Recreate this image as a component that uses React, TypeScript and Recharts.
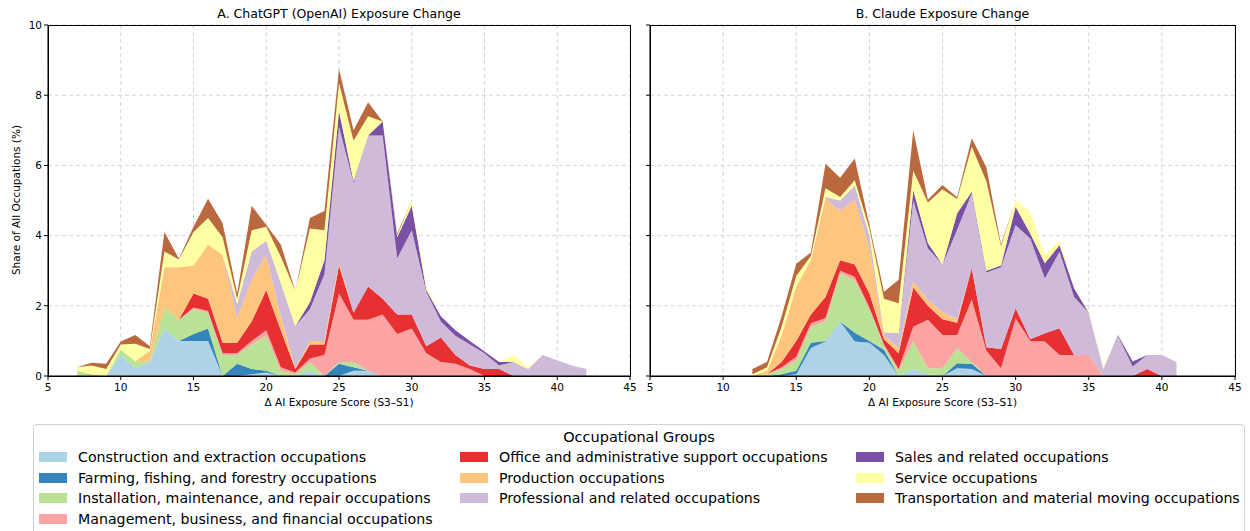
import React from 'react';
import { AreaChart, Area, XAxis, YAxis, CartesianGrid } from 'recharts';

const groupNames = [
  'Construction and extraction occupations',
  'Farming, fishing, and forestry occupations',
  'Installation, maintenance, and repair occupations',
  'Management, business, and financial occupations',
  'Office and administrative support occupations',
  'Production occupations',
  'Professional and related occupations',
  'Sales and related occupations',
  'Service occupations',
  'Transportation and material moving occupations',
];
const groupKeys = ['construction', 'farming', 'installation', 'management', 'office', 'production', 'professional', 'sales', 'service', 'transport'];
const groupColors = ['#a6cee3', '#1f78b4', '#b2df8a', '#fb9a99', '#e31a1c', '#fdbf6f', '#cab2d6', '#6a3d9a', '#ffff99', '#b15928'];

const xTicks = [5, 10, 15, 20, 25, 30, 35, 40, 45];
const yTicks = [0, 2, 4, 6, 8, 10];

// Panel A: ChatGPT (OpenAI)
const xA = [7, 8, 9, 10, 11, 12, 13, 14, 15, 16, 17, 18, 19, 20, 21, 22, 23, 24, 25, 26, 27, 28, 29, 30, 31, 32, 33, 34, 35, 36, 37, 38, 39, 40, 41, 42];
const constructionA = [0, 0, 0, 0.6, 0.22, 0.4, 1.35, 1.0, 1.0, 1.0, 0, 0, 0.05, 0.1, 0, 0, 0.15, 0, 0, 0.15, 0.15, 0, 0, 0, 0, 0, 0, 0, 0, 0, 0, 0, 0, 0, 0, 0];
const farmingA = [0, 0, 0, 0, 0, 0, 0, 0, 0.2, 0.35, 0, 0.35, 0.15, 0.05, 0, 0, 0, 0, 0.35, 0.1, 0, 0, 0, 0, 0, 0, 0, 0, 0, 0, 0, 0, 0, 0, 0, 0];
const installationA = [0.15, 0.05, 0, 0.15, 0.2, 0.02, 0.6, 0.6, 0.7, 0.45, 0.6, 0.25, 0.7, 1.0, 0.15, 0.05, 0.25, 0, 0.05, 0.15, 0, 0, 0, 0, 0, 0, 0, 0, 0, 0, 0, 0, 0, 0, 0, 0];
const managementA = [0, 0, 0, 0, 0, 0, 0, 0, 0.05, 0.05, 0.05, 0.05, 0.1, 0.15, 0.1, 0.05, 0.1, 0.6, 1.95, 1.2, 1.45, 1.75, 1.2, 1.35, 0.65, 0.4, 0.35, 0.2, 0, 0, 0, 0, 0, 0, 0, 0];
const officeA = [0, 0, 0, 0, 0, 0, 0, 0, 0.4, 0.35, 0.3, 0.3, 0.55, 1.15, 1.05, 0.1, 0.4, 0.3, 0.8, 0.2, 0.95, 0.45, 0.55, 0.4, 0.2, 0.7, 0.25, 0.1, 0.2, 0.2, 0, 0, 0, 0, 0, 0];
const productionA = [0, 0, 0, 0, 0, 0.3, 1.15, 1.5, 0.8, 1.55, 2.5, 0.7, 1.2, 1.0, 0.4, 0.02, 0.1, 0.1, 0.1, 0, 0, 0, 0, 0, 0, 0, 0, 0, 0, 0, 0, 0, 0, 0, 0, 0];
const professionalA = [0, 0, 0, 0, 0, 0, 0, 0, 0, 0, 0, 0.4, 0.8, 0.4, 0.95, 1.2, 0.9, 1.9, 3.85, 3.7, 4.3, 4.65, 1.6, 2.4, 1.55, 0.45, 0.55, 0.6, 0.45, 0.1, 0.4, 0.2, 0.6, 0.45, 0.3, 0.2];
const salesA = [0, 0, 0, 0, 0, 0, 0, 0, 0, 0, 0, 0, 0, 0, 0, 0, 0.2, 0.4, 0.45, 0.05, 0, 0.4, 0.6, 0.7, 0.05, 0.15, 0.15, 0.1, 0.05, 0.1, 0, 0, 0, 0, 0, 0];
const serviceA = [0.1, 0.25, 0.2, 0.15, 0.5, 0.05, 0.45, 0.22, 0.95, 0.75, 0.5, 0.15, 0.6, 0.4, 0.75, 1.0, 2.1, 0.85, 0.8, 1.15, 0.55, 0, 0.05, 0.15, 0.1, 0, 0, 0, 0, 0, 0.2, 0.05, 0, 0, 0, 0];
const transportA = [0, 0.08, 0.15, 0.08, 0.25, 0.08, 0.55, 0.02, 0.15, 0.55, 0.4, 0.15, 0.7, 0.05, 0.35, 0, 0.3, 0.55, 0.4, 0.3, 0.4, 0, 0.05, 0, 0, 0, 0, 0, 0, 0, 0, 0, 0, 0, 0, 0];

// Panel B: Claude
const xB = [12, 13, 14, 15, 16, 17, 18, 19, 20, 21, 22, 23, 24, 25, 26, 27, 28, 29, 30, 31, 32, 33, 34, 35, 36, 37, 38, 39, 40, 41];
const constructionB = [0, 0, 0, 0.05, 0.8, 0.98, 1.55, 0.98, 0.95, 0.6, 0, 0.2, 0.05, 0, 0.22, 0.2, 0, 0, 0, 0, 0, 0, 0, 0, 0, 0, 0, 0, 0, 0];
const farmingB = [0, 0, 0.05, 0.1, 0.15, 0.02, 0, 0.25, 0.05, 0.15, 0, 0, 0, 0, 0.14, 0.15, 0, 0, 0, 0, 0, 0, 0, 0, 0, 0, 0, 0, 0, 0];
const installationB = [0, 0.05, 0.15, 0.3, 0.45, 0.55, 1.37, 1.5, 0.9, 0.1, 0.15, 0.78, 0.17, 0.22, 0.43, 0.05, 0, 0, 0, 0, 0, 0, 0, 0, 0, 0, 0, 0, 0, 0];
const managementB = [0, 0, 0.05, 0.1, 0.1, 0.1, 0.08, 0.1, 0.05, 0.05, 0.05, 0.42, 1.38, 0.95, 0.38, 1.77, 0.72, 0.22, 1.64, 1.0, 0.98, 0.6, 0.6, 0.6, 0, 0, 0, 0, 0, 0];
const officeB = [0, 0, 0.15, 0.45, 0.25, 0.6, 0.3, 0.35, 0.4, 0.15, 0.45, 1.12, 0.4, 0.45, 0.35, 0.9, 0.1, 0.55, 0.29, 0.05, 0.24, 0.76, 0, 0, 0, 0, 0, 0.2, 0, 0];
const productionB = [0, 0.1, 0.75, 1.55, 1.55, 2.8, 1.4, 1.85, 1.3, 0.1, 0.15, 0.18, 0.17, 0.2, 0.1, 0, 0, 0, 0, 0, 0, 0, 0, 0, 0, 0, 0, 0, 0, 0];
const professionalB = [0, 0, 0, 0, 0, 0.05, 0.3, 0.4, 0.35, 0.1, 0.42, 2.3, 1.47, 1.35, 2.55, 2.13, 2.13, 2.33, 2.37, 2.87, 1.56, 2.18, 1.65, 1.2, 0.2, 1.15, 0.27, 0.4, 0.6, 0.4];
const salesB = [0, 0, 0, 0, 0, 0, 0, 0, 0, 0, 0, 0.3, 0.15, 0, 0.47, 0.05, 0.05, 0.05, 0.52, 0.14, 0.43, 0.19, 0.25, 0, 0, 0.02, 0.14, 0, 0, 0];
const serviceB = [0.05, 0.1, 0.25, 0.3, 0.12, 0.25, 0.1, 0.15, 0.2, 0.95, 0.85, 0.55, 1.15, 2.15, 0.4, 1.28, 2.55, 0.55, 0.19, 0.62, 0.24, 0.14, 0.02, 0.05, 0.05, 0, 0, 0, 0, 0];
const transportB = [0.15, 0.15, 0.3, 0.35, 0.1, 0.7, 0.55, 0.62, 0.1, 0.2, 0.67, 1.15, 0.08, 0.12, 0.05, 0.24, 0.4, 0.05, 0, 0, 0, 0, 0, 0, 0, 0, 0, 0, 0, 0];

const seriesA = [constructionA, farmingA, installationA, managementA, officeA, productionA, professionalA, salesA, serviceA, transportA];
const seriesB = [constructionB, farmingB, installationB, managementB, officeB, productionB, professionalB, salesB, serviceB, transportB];

function buildRows(xs: number[], series: number[][]) {
  return xs.map((x, i) => {
    const row: Record<string, number> = { x };
    groupKeys.forEach((k, j) => {
      row[k] = series[j][i];
    });
    return row;
  });
}

const dataA = buildRows(xA, seriesA);
const dataB = buildRows(xB, seriesB);

const FONT = '"DejaVu Sans", sans-serif';
const tickStyle = { fontSize: 10.5, fill: '#000', fontFamily: FONT };

function Panel({ data, left, width, showYLabels }: { data: Record<string, number>[]; left: number; width: number; showYLabels: boolean }) {
  return (
    <div style={{ position: 'absolute', left, top: 0 }}>
      <AreaChart width={width} height={400} data={data} margin={{ top: 25, right: 10, bottom: 0, left: 0 }}>
        <CartesianGrid stroke="#d4d4d4" strokeDasharray="4 3" />
        <XAxis
          dataKey="x"
          type="number"
          domain={[5, 45]}
          ticks={xTicks}
          allowDataOverflow
          height={24}
          tickSize={4}
          tickMargin={4}
          stroke="#000"
          tick={tickStyle}
          interval={0}
        />
        <YAxis
          type="number"
          domain={[0, 10]}
          ticks={yTicks}
          allowDataOverflow
          width={48}
          tickSize={4}
          tickMargin={2}
          stroke="#000"
          tick={tickStyle}
          interval={0}
          tickFormatter={(v: number) => (showYLabels ? String(v) : '')}
        />
        {groupKeys.map((k, j) => (
          <Area
            key={k}
            type="linear"
            dataKey={k}
            stackId="s"
            stroke="none"
            fill={groupColors[j]}
            fillOpacity={0.9}
            isAnimationActive={false}
            dot={false}
            activeDot={false}
          />
        ))}
      </AreaChart>
    </div>
  );
}

export default function App() {
  const plotA = { left: 48, right: 630 };
  const plotB = { left: 650, right: 1235 };
  return (
    <div style={{ position: 'fixed', left: 0, top: 0, width: 1250, height: 531, background: '#fff', overflow: 'hidden', fontFamily: FONT, color: '#000' }}>
      <Panel data={dataA} left={0} width={640} showYLabels={true} />
      <Panel data={dataB} left={602} width={643} showYLabels={false} />

      {/* frames */}
      <div style={{ position: 'absolute', left: plotA.left, top: 25, width: plotA.right - plotA.left + 1, height: 352, border: '1px solid #000', boxSizing: 'border-box', pointerEvents: 'none' }} />
      <div style={{ position: 'absolute', left: plotB.left, top: 25, width: plotB.right - plotB.left + 1, height: 352, border: '1px solid #000', boxSizing: 'border-box', pointerEvents: 'none' }} />

      {/* titles */}
      <div style={{ position: 'absolute', left: plotA.left, width: plotA.right - plotA.left, top: 6, textAlign: 'center', fontSize: 12.5, lineHeight: '16px' }}>A. ChatGPT (OpenAI) Exposure Change</div>
      <div style={{ position: 'absolute', left: plotB.left, width: plotB.right - plotB.left, top: 6, textAlign: 'center', fontSize: 12.5, lineHeight: '16px' }}>B. Claude Exposure Change</div>

      {/* x labels */}
      <div style={{ position: 'absolute', left: plotA.left, width: plotA.right - plotA.left, top: 395, textAlign: 'center', fontSize: 10.5, lineHeight: '14px' }}>Δ AI Exposure Score (S3–S1)</div>
      <div style={{ position: 'absolute', left: plotB.left, width: plotB.right - plotB.left, top: 395, textAlign: 'center', fontSize: 10.5, lineHeight: '14px' }}>Δ AI Exposure Score (S3–S1)</div>

      {/* y label */}
      <div style={{ position: 'absolute', left: 16, top: 200, width: 0, height: 0 }}>
        <div style={{ position: 'absolute', left: -100, top: -7, width: 200, textAlign: 'center', fontSize: 10.5, lineHeight: '14px', transform: 'rotate(-90deg)', whiteSpace: 'nowrap' }}>Share of All Occupations (%)</div>
      </div>

      {/* legend */}
      <div style={{ position: 'absolute', left: 33, top: 424, width: 1212, height: 120, border: '1px solid #d0d0d0', borderRadius: 4, boxSizing: 'border-box' }} />
      <div style={{ position: 'absolute', left: 33, width: 1212, top: 428, textAlign: 'center', fontSize: 14.5, lineHeight: '18px' }}>Occupational Groups</div>
      {groupNames.map((name, i) => {
        const col = i < 4 ? 0 : i < 7 ? 1 : 2;
        const row = i < 4 ? i : i < 7 ? i - 4 : i - 7;
        const colX = [39, 460, 856][col];
        const cy = 457 + row * 20.7;
        return (
          <div key={name} style={{ position: 'absolute', left: colX, top: cy - 10, height: 20, display: 'flex', alignItems: 'center', whiteSpace: 'nowrap' }}>
            <div style={{ width: 28, height: 10, background: groupColors[i], opacity: 0.9, marginRight: 11 }} />
            <span style={{ fontSize: 14.2, lineHeight: '20px' }}>{name}</span>
          </div>
        );
      })}
    </div>
  );
}
